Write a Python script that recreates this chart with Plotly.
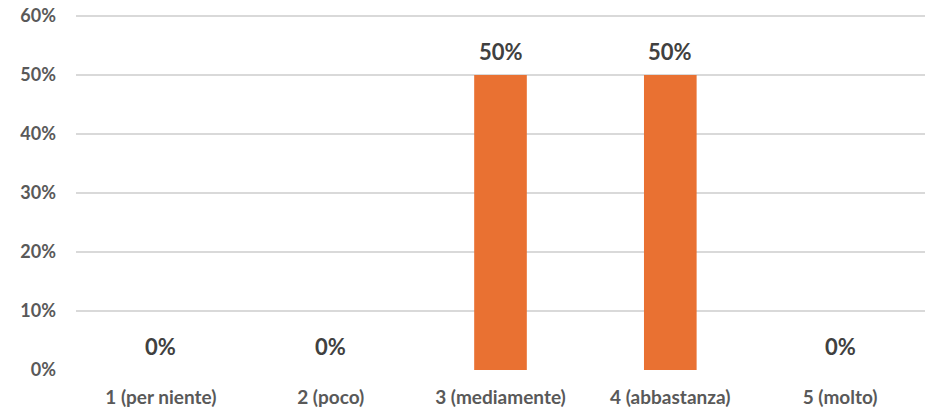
import plotly.graph_objects as go

# Data
categories = ['1 (per niente)', '2 (poco)', '3 (mediamente)', '4 (abbastanza)', '5 (molto)']
values = [0.0, 0.0, 0.5, 0.5, 0.0]
labels = ['0%', '0%', '50%', '50%', '0%']
y_ticks = [0, 0.1, 0.2, 0.3, 0.4, 0.5, 0.6]
y_tick_labels = ['0%', '10%', '20%', '30%', '40%', '50%', '60%']

bar_color = '#E97132'
font_family = 'Lato, Open Sans, sans-serif'

fig = go.Figure()

fig.add_trace(go.Bar(
    x=categories,
    y=values,
    marker=dict(color=bar_color, line=dict(width=0)),
    hoverinfo='skip'
))

# data labels sitting above the bars
for cat, val, lab in zip(categories, values, labels):
    fig.add_annotation(
        x=cat, y=val, text=lab,
        showarrow=False, yanchor='bottom', yshift=8,
        font=dict(family=font_family, size=22, color='#404040', weight='bold')
    )

fig.update_layout(
    width=926,
    height=413,
    margin=dict(l=76, r=1, t=10, b=43, autoexpand=False),
    paper_bgcolor='white',
    plot_bgcolor='white',
    bargap=0.69,
    showlegend=False,
    font=dict(family=font_family, color='#595959'),
    xaxis=dict(
        automargin=False,
        showgrid=False,
        showline=False,
        ticks='',
        tickfont=dict(size=19, color='#595959', weight='bold'),
        ticklabelstandoff=14,
    ),
    yaxis=dict(
        automargin=False,
        range=[0, 0.61],
        tickvals=y_ticks,
        ticktext=y_tick_labels,
        showgrid=True,
        gridcolor='#D9D9D9',
        gridwidth=2,
        zeroline=False,
        showline=False,
        ticklabeloverflow='allow',
        tickfont=dict(size=18, color='#595959', weight='bold'),
        ticklabelstandoff=19,
    ),
)

# drop the default body margin so the figure fills the window
fix_page = (
    "document.body.style.margin='0';"
    "document.body.style.overflow='hidden';"
    "Plotly.relayout('{plot_id}', {width: 926, height: 413});"
)

fig.write_html("out.html", post_script=fix_page, config={'displayModeBar': False})
